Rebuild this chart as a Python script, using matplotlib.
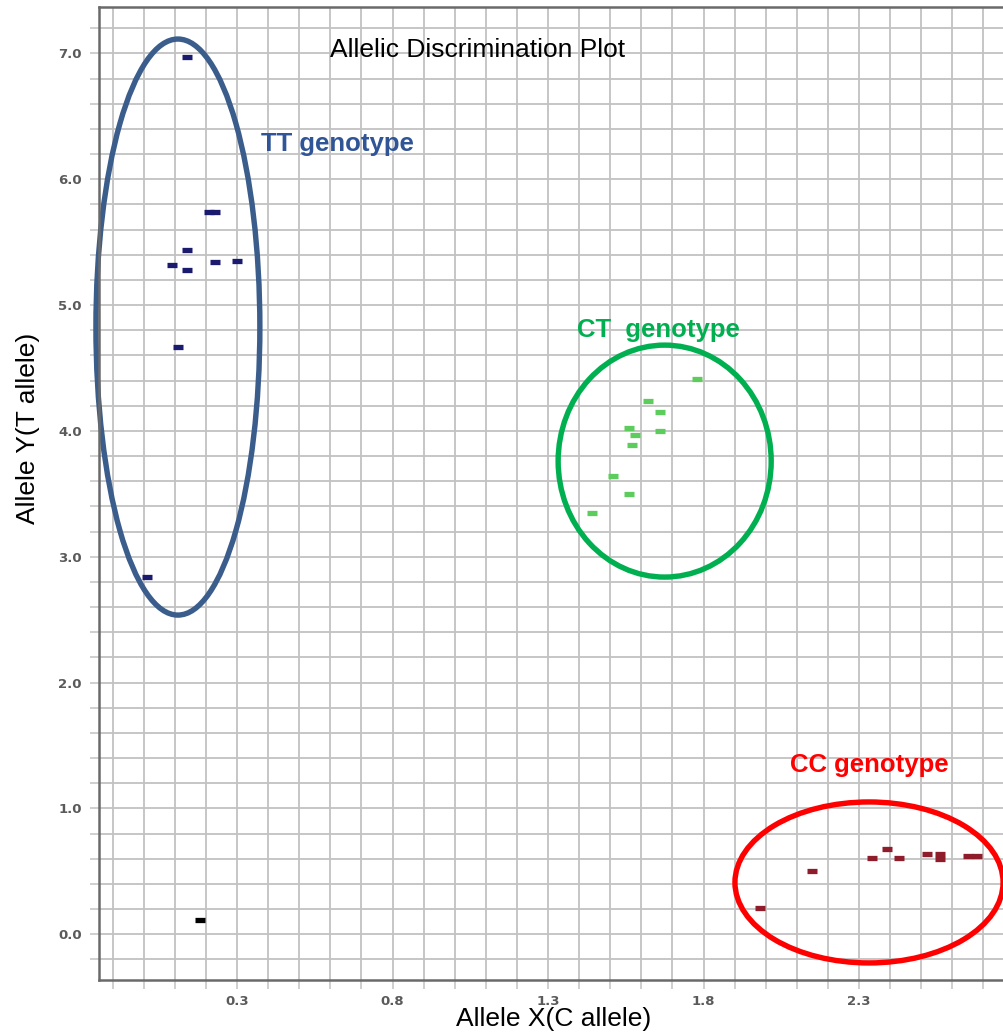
import numpy as np
import matplotlib
matplotlib.use("Agg")
import matplotlib.pyplot as plt
from matplotlib.patches import Ellipse

# allele signal values per sample
tt_x = [0.14, 0.21, 0.23, 0.14, 0.09, 0.14, 0.23, 0.30, 0.11, 0.01]
tt_y = [6.97, 5.74, 5.74, 5.44, 5.32, 5.28, 5.34, 5.35, 4.67, 2.84]

ct_x = [1.78, 1.62, 1.66, 1.56, 1.58, 1.66, 1.57, 1.51, 1.56, 1.44]
ct_y = [4.41, 4.24, 4.15, 4.02, 3.97, 4.00, 3.89, 3.64, 3.50, 3.35]

cc_x = [1.98, 2.15, 2.34, 2.39, 2.43, 2.52, 2.56, 2.56, 2.65, 2.68]
cc_y = [0.21, 0.50, 0.61, 0.68, 0.61, 0.64, 0.64, 0.60, 0.62, 0.62]

ntc_x = [0.18]
ntc_y = [0.11]

x_tick_pos = [0.3, 0.8, 1.3, 1.8, 2.3]
x_tick_text = ["0.3", "0.8", "1.3", "1.8", "2.3"]
y_tick_pos = [0, 1, 2, 3, 4, 5, 6, 7]
y_tick_text = ["0.0", "1.0", "2.0", "3.0", "4.0", "5.0", "6.0", "7.0"]

plt.rcParams['font.family'] = ['Liberation Sans', 'DejaVu Sans']

fig = plt.figure(figsize=(10.04, 10.32), dpi=100)
ax = fig.add_axes([0.0986, 0.0504, 0.9014, 0.9428])
ax.set_xlim(-0.1437, 2.766)
ax.set_ylim(-0.363, 7.368)

# grid every 0.1 on x and 0.2 on y, ticks poke out past the axes
xgrid = np.round(np.arange(-0.1, 2.75, 0.1), 2)
ygrid = np.round(np.arange(-0.2, 7.3, 0.2), 2)
ax.set_xticks(xgrid, [x_tick_text[x_tick_pos.index(v)] if v in x_tick_pos else "" for v in xgrid])
ax.set_yticks(ygrid, [y_tick_text[y_tick_pos.index(v)] if v in y_tick_pos else "" for v in ygrid])
ax.grid(True, color="#c2c2c2", linewidth=1.3)
ax.set_axisbelow(True)
ax.tick_params(axis="both", length=6.5, width=1.1, color="#c2c2c2",
               labelcolor="#5a5a5a", labelsize=9.5)
ax.tick_params(axis="y", pad=6)
ax.tick_params(axis="x", pad=4)
for lab in ax.get_xticklabels() + ax.get_yticklabels():
    lab.set_fontfamily("DejaVu Sans")
    lab.set_fontweight("bold")

for side in ["left", "bottom", "top"]:
    ax.spines[side].set_color("#6a6a6a")
    ax.spines[side].set_linewidth(1.8)
ax.spines["right"].set_visible(False)

mk = dict(linestyle="none", marker="_", markersize=6.8, markeredgewidth=3.8)
ax.plot(tt_x, tt_y, color="#1a1a6e", **mk)
ax.plot(ct_x, ct_y, color="#5ccc5c", **mk)
ax.plot(cc_x, cc_y, color="#8e1c2a", **mk)
ax.plot(ntc_x, ntc_y, color="black", **mk)

# cluster rings
ax.add_patch(Ellipse((0.110, 4.825), 0.527, 4.577, fill=False, edgecolor="#3a5d8c",
                     linewidth=3.9, clip_on=False))
ax.add_patch(Ellipse((1.675, 3.760), 0.685, 1.843, fill=False, edgecolor="#00b050",
                     linewidth=3.9, clip_on=False))
ax.add_patch(Ellipse((2.332, 0.412), 0.862, 1.279, fill=False, edgecolor="#ff0000",
                     linewidth=3.9, clip_on=False))

ax.text(1.072, 7.026, "Allelic Discrimination Plot", ha="center", va="center",
        fontsize=19, color="black")
ax.text(0.622, 6.279, "TT genotype", ha="center", va="center", fontsize=18.5,
        fontweight="bold", color="#2f5597")
ax.text(1.654, 4.800, "CT  genotype", ha="center", va="center", fontsize=18.5,
        fontweight="bold", color="#00b050")
ax.text(2.332, 1.345, "CC genotype", ha="center", va="center", fontsize=18.5,
        fontweight="bold", color="#ff0000")

fig.text(554 / 1004, 1 - 1019 / 1032, "Allele X(C allele)", ha="center", va="center",
         fontsize=19, family=["Liberation Sans Narrow", "Liberation Sans"])
fig.text(28 / 1004, 1 - 428 / 1032, "Allele Y(T allele)", ha="center", va="center",
         rotation=90, fontsize=19)

fig.savefig("out.png", dpi=100)
